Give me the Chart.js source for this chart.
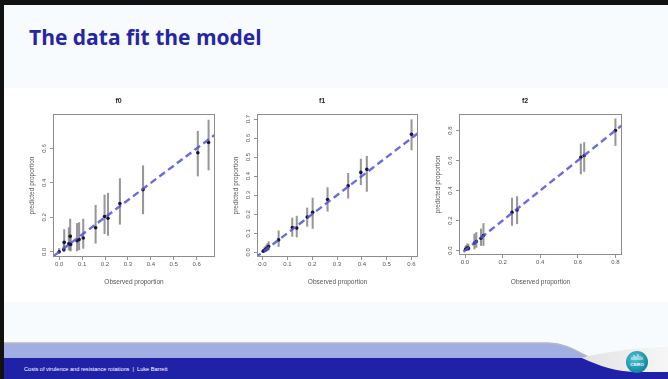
<!DOCTYPE html>
<html>
<head>
<meta charset="utf-8">
<script src="https://cdn.jsdelivr.net/npm/chart.js@4.4.1/dist/chart.umd.min.js"></script>
<style>
html, body { margin: 0; padding: 0; }
body { width: 668px; height: 379px; position: relative; overflow: hidden; background: #f7fbfd; font-family: "Liberation Sans", Arial, sans-serif; }
#frameL { position: absolute; left: 0; top: 0; width: 4px; height: 379px; background: #111; }
#frameT { position: absolute; left: 0; top: 0; width: 668px; height: 5px; background: #111; }
#title { position: absolute; left: 29px; top: 25px; font-family: "Open Sans", Lato, sans-serif; font-weight: bold; font-size: 21px; line-height: 24px; color: #2626a3; }
#plots { position: absolute; left: 4px; top: 88px; width: 664px; height: 214px; background: #fff; }
canvas { position: absolute; }
#footer { position: absolute; left: 0; top: 330px; }
#footText { position: absolute; left: 24px; top: 366px; font-size: 5.6px; line-height: 6px; color: #fff; }
</style>
</head>
<body>
<div id="frameL"></div>
<div id="frameT"></div>
<div id="title">The data fit the model</div>
<div id="plots"></div>
<canvas id="p0" width="205" height="204"></canvas>
<canvas id="p1" width="204" height="204"></canvas>
<canvas id="p2" width="206" height="204"></canvas>

<svg id="footer" width="668" height="49" viewBox="0 330 668 49">
  <defs>
    <linearGradient id="swoosh" x1="0" y1="0" x2="1" y2="0">
      <stop offset="0" stop-color="#e2e2e4"/>
      <stop offset="1" stop-color="#f6f6f6"/>
    </linearGradient>
    <radialGradient id="logo" cx="0.4" cy="0.35" r="0.7">
      <stop offset="0" stop-color="#52c6d6"/>
      <stop offset="1" stop-color="#0b7f99"/>
    </radialGradient>
  </defs>
  <path d="M4,343 H548 C566,343 578,352 590,358 H4 Z" fill="#a0aee2"/>
  <path d="M4,343 H548 C566,343 578,352 590,358" fill="none" stroke="#b8b8c0" stroke-width="1.5"/>
  <path d="M580,358 C605,352 632,348 668,347 V373 H640 C615,372 600,366 580,358 Z" fill="url(#swoosh)"/>
  <path d="M4,358 H582 C600,366 615,372 640,372 H668 V379 H4 Z" fill="#1f22a6"/>
  <circle cx="637" cy="362" r="11" fill="url(#logo)"/>
  <g stroke="#fff" stroke-width="0.9">
    <line x1="632" y1="360" x2="632" y2="357"/>
    <line x1="634" y1="360" x2="634" y2="355"/>
    <line x1="636" y1="360" x2="636" y2="356"/>
    <line x1="638" y1="360" x2="638" y2="354"/>
    <line x1="640" y1="360" x2="640" y2="356"/>
    <line x1="642" y1="360" x2="642" y2="357"/>
  </g>
  <text x="637" y="366" text-anchor="middle" font-family="Liberation Sans, Arial, sans-serif" font-size="4.3" font-weight="bold" fill="#fff">CSIRO</text>
</svg>
<div id="footText">Costs of virulence and resistance rotations &nbsp;|&nbsp; Luke Barrett</div>

<script>
const panelTitles = ['f0', 'f1', 'f2'];

// f0
const obs0 = [0.00, 0.020, 0.022, 0.042, 0.048, 0.050, 0.078, 0.087, 0.105, 0.159, 0.198, 0.213, 0.265, 0.366, 0.605, 0.652];
const pred0 = [0.00, 0.014, 0.055, 0.046, 0.090, 0.043, 0.065, 0.072, 0.080, 0.140, 0.205, 0.195, 0.280, 0.360, 0.575, 0.635];
const lo0 = [0.00, 0.000, 0.000, 0.010, 0.010, 0.005, 0.005, 0.012, 0.020, 0.050, 0.105, 0.095, 0.160, 0.220, 0.440, 0.475];
const hi0 = [0.02, 0.050, 0.130, 0.140, 0.190, 0.100, 0.165, 0.170, 0.190, 0.270, 0.330, 0.340, 0.425, 0.500, 0.700, 0.765];

// f1
const obs1 = [0.003, 0.008, 0.012, 0.016, 0.020, 0.025, 0.065, 0.120, 0.138, 0.180, 0.202, 0.262, 0.345, 0.396, 0.420, 0.600];
const pred1 = [0.005, 0.010, 0.013, 0.018, 0.022, 0.030, 0.065, 0.130, 0.127, 0.185, 0.210, 0.277, 0.350, 0.420, 0.436, 0.620];
const lo1 = [0.000, 0.000, 0.002, 0.005, 0.008, 0.012, 0.030, 0.083, 0.080, 0.136, 0.125, 0.215, 0.284, 0.355, 0.320, 0.538];
const hi1 = [0.015, 0.025, 0.030, 0.038, 0.045, 0.055, 0.113, 0.180, 0.190, 0.233, 0.285, 0.340, 0.415, 0.490, 0.505, 0.697];

// f2
const obs2 = [0.003, 0.008, 0.013, 0.018, 0.050, 0.060, 0.085, 0.098, 0.250, 0.277, 0.616, 0.634, 0.800];
const pred2 = [0.008, 0.012, 0.016, 0.014, 0.050, 0.060, 0.082, 0.100, 0.255, 0.270, 0.622, 0.633, 0.800];
const lo2 = [0.000, 0.000, 0.000, 0.002, 0.010, 0.020, 0.033, 0.033, 0.167, 0.178, 0.510, 0.527, 0.700];
const hi2 = [0.030, 0.035, 0.045, 0.040, 0.110, 0.120, 0.144, 0.180, 0.350, 0.360, 0.710, 0.720, 0.878];

const xTicks0 = [0, 0.1, 0.2, 0.3, 0.4, 0.5, 0.6];
const yTicks0 = [0, 0.2, 0.4, 0.6];
const xTicks1 = [0, 0.1, 0.2, 0.3, 0.4, 0.5, 0.6];
const yTicks1 = [0, 0.1, 0.2, 0.3, 0.4, 0.5, 0.6, 0.7];
const xTicks2 = [0, 0.2, 0.4, 0.6, 0.8];
const yTicks2 = [0, 0.2, 0.4, 0.6, 0.8];

// 1:1 reference line, y = x
const fitLine = [-0.1, 1.0];

const FONT = '"Liberation Sans", Arial, sans-serif';

// box around the plot region, R style
const boxFrame = {
    id: 'boxFrame',
    afterDraw(chart) {
        const a = chart.chartArea;
        const ctx = chart.ctx;
        ctx.save();
        ctx.strokeStyle = '#8c8c8c';
        ctx.lineWidth = 1;
        ctx.strokeRect(Math.round(a.left) + 0.5, Math.round(a.top) + 0.5,
            Math.round(a.right - a.left) - 1, Math.round(a.bottom - a.top) - 1);
        ctx.restore();
    }
};

function makePanel(id, title, obs, pred, lo, hi, xTicks, yTicks, xRange, yRange, box) {
    const canvas = document.getElementById(id);
    canvas.style.left = (box.l - 31) + 'px';
    canvas.style.top = '88px';
    const xAxisH = 88 + canvas.height - box.b;

    return new Chart(canvas.getContext('2d'), {
        type: 'scatter',
        data: {
            datasets: [
                {
                    type: 'line',
                    data: fitLine.map(v => ({ x: v, y: v })),
                    borderColor: 'rgba(80,80,225,0.85)',
                    borderWidth: 2.4,
                    borderDash: [7, 4],
                    pointRadius: 0,
                    clip: 0,
                    order: 0
                },
                {
                    type: 'scatter',
                    data: obs.map((v, i) => ({ x: v, y: pred[i] })),
                    pointRadius: 1.8,
                    backgroundColor: '#15153c',
                    borderWidth: 0,
                    order: 1
                },
                {
                    type: 'bar',
                    data: obs.map((v, i) => ({ x: v, y: [lo[i], hi[i]] })),
                    backgroundColor: 'rgba(125,125,125,0.8)',
                    barThickness: 1.4,
                    borderWidth: 0,
                    order: 2
                }
            ]
        },
        options: {
            responsive: false,
            animation: false,
            devicePixelRatio: 1,
            layout: { padding: { left: 0, right: canvas.width - 31 - (box.r - box.l), top: 0, bottom: 0 } },
            plugins: {
                legend: { display: false },
                tooltip: { enabled: false },
                title: {
                    display: true,
                    text: title,
                    color: '#222',
                    font: { family: FONT, size: 7, weight: 'bold' },
                    padding: { top: 9, bottom: 8.6 }
                }
            },
            scales: {
                x: {
                    type: 'linear',
                    offset: false,
                    min: xRange[0],
                    max: xRange[1],
                    afterBuildTicks: s => { s.ticks = xTicks.map(v => ({ value: v })); },
                    afterFit: s => { s.height = xAxisH; },
                    grid: { offset: false, drawOnChartArea: false, drawTicks: true, tickLength: 3, color: '#777', lineWidth: 0.8 },
                    border: { display: false },
                    ticks: {
                        font: { family: FONT, size: 6 }, color: '#555', padding: 1,
                        maxRotation: 0, autoSkip: false,
                        callback: v => v.toFixed(1)
                    },
                    title: {
                        display: true, text: 'Observed proportion', color: '#555',
                        font: { family: FONT, size: 6.5 }, padding: { top: 0, bottom: 5.8 }
                    }
                },
                y: {
                    type: 'linear',
                    min: yRange[0],
                    max: yRange[1],
                    afterBuildTicks: s => { s.ticks = yTicks.map(v => ({ value: v })); },
                    afterFit: s => { s.width = 31; },
                    grid: { drawOnChartArea: false, drawTicks: true, tickLength: 3, color: '#777', lineWidth: 0.8 },
                    border: { display: false },
                    ticks: {
                        font: { family: FONT, size: 6 }, color: '#555', padding: 1.5,
                        minRotation: 90, maxRotation: 90, crossAlign: 'center', autoSkip: false,
                        callback: v => v.toFixed(1)
                    },
                    title: {
                        display: true, text: 'predicted proportion', color: '#555',
                        font: { family: FONT, size: 6.5 }, padding: { top: 6.8, bottom: 0 }
                    }
                }
            }
        },
        plugins: [boxFrame]
    });
}

makePanel('p0', panelTitles[0], obs0, pred0, lo0, hi0, xTicks0, yTicks0, [-0.027, 0.68], [-0.03, 0.80], { l: 53, r: 215, b: 257 });
makePanel('p1', panelTitles[1], obs1, pred1, lo1, hi1, xTicks1, yTicks1, [-0.022, 0.626], [-0.025, 0.727], { l: 257, r: 418, b: 257 });
makePanel('p2', panelTitles[2], obs2, pred2, lo2, hi2, xTicks2, yTicks2, [-0.032, 0.835], [-0.03, 0.91], { l: 459, r: 622, b: 255 });
</script>
</body>
</html>
